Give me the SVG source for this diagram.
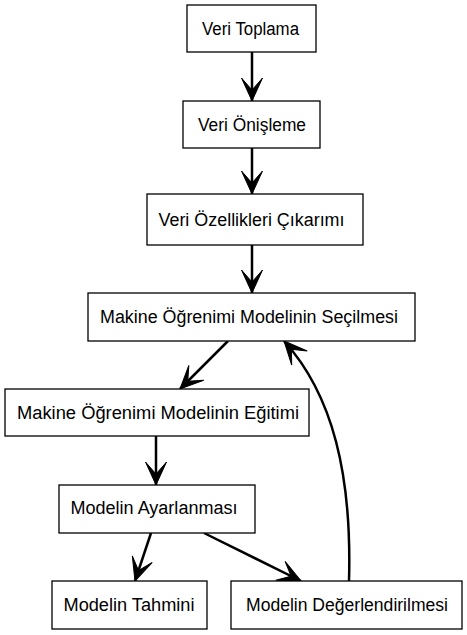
<svg xmlns="http://www.w3.org/2000/svg" width="467" height="635" viewBox="0 0 467 635">
<style>
.box{fill:#fff;stroke:#000;stroke-width:1.3}
.lbl{font-family:"Liberation Sans",Arial,sans-serif;font-size:18px;fill:#000;text-anchor:middle}
.edge{fill:none;stroke:#000;stroke-width:2.5}
</style>
<defs>
<marker id="vee" markerUnits="userSpaceOnUse" markerWidth="26" markerHeight="26" viewBox="0 -13 24 26" refX="23" refY="0" orient="auto">
<path d="M0,-10.5 L23,0 L0,10.5 L12,0 Z" fill="#000" stroke="#000" stroke-width="1" stroke-linejoin="miter"/>
</marker>
</defs>
<rect width="467" height="635" fill="#fff"/>
<g id="edges">
<path class="edge" d="M252,52 L252,101" marker-end="url(#vee)"/>
<path class="edge" d="M252,148 L252,194" marker-end="url(#vee)"/>
<path class="edge" d="M252,245 L252,293" marker-end="url(#vee)"/>
<path class="edge" d="M228,341 L180,389" marker-end="url(#vee)"/>
<path class="edge" d="M156,436 L156,485" marker-end="url(#vee)"/>
<path class="edge" d="M151,533 L135,581" marker-end="url(#vee)"/>
<path class="edge" d="M204,533 L301,581" marker-end="url(#vee)"/>
<path class="edge" d="M349,581 C352,475 333,395 284,341" marker-end="url(#vee)"/>
</g>
<g id="n1"><rect class="box" x="187" y="5" width="129" height="47"/><text class="lbl" x="250.5" y="35" textLength="97" lengthAdjust="spacingAndGlyphs">Veri Toplama</text></g>
<g id="n2"><rect class="box" x="183" y="101" width="137" height="47"/><text class="lbl" x="252" y="131" textLength="108" lengthAdjust="spacingAndGlyphs">Veri Önişleme</text></g>
<g id="n3"><rect class="box" x="147" y="194" width="216" height="51"/><text class="lbl" x="251.5" y="226" textLength="186" lengthAdjust="spacingAndGlyphs">Veri Özellikleri Çıkarımı</text></g>
<g id="n4"><rect class="box" x="88" y="293" width="327" height="48"/><text class="lbl" x="249" y="322.5" textLength="298" lengthAdjust="spacingAndGlyphs">Makine Öğrenimi Modelinin Seçilmesi</text></g>
<g id="n5"><rect class="box" x="5" y="389" width="304" height="47"/><text class="lbl" x="158" y="418.5" textLength="282" lengthAdjust="spacingAndGlyphs">Makine Öğrenimi Modelinin Eğitimi</text></g>
<g id="n6"><rect class="box" x="59" y="485" width="196" height="48"/><text class="lbl" x="154" y="513.5" textLength="167" lengthAdjust="spacingAndGlyphs">Modelin Ayarlanması</text></g>
<g id="n7"><rect class="box" x="52" y="581" width="155" height="48"/><text class="lbl" x="129" y="610.5" textLength="131" lengthAdjust="spacingAndGlyphs">Modelin Tahmini</text></g>
<g id="n8"><rect class="box" x="231" y="581" width="231" height="48"/><text class="lbl" x="347" y="611" textLength="202" lengthAdjust="spacingAndGlyphs">Modelin Değerlendirilmesi</text></g>
</svg>
